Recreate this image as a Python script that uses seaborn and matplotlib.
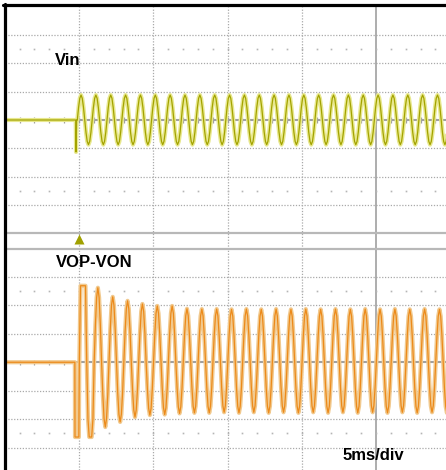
import numpy as np
import matplotlib
matplotlib.use('Agg')
import matplotlib.pyplot as plt
from matplotlib.lines import Line2D
import seaborn as sns

sns.set_style('white')
plt.rcParams['font.family'] = ['Liberation Sans', 'DejaVu Sans']

# scope screen: 5 ms/div horizontally, vertical values in divisions
x_end_ms = 29.71
x_grid_ms = [5, 10, 15, 20]
x_center_ms = 25
trigger_ms = 5.0

# one sampled cycle of the trace (normalised)
cycle_shape = [0.0, 0.5, 0.87, 1.0, 0.87, 0.5, 0.0, -0.5, -0.87, -1.0, -0.87, -0.5]
period_ms = 1.0

# Vin channel
vin_start_ms = 4.886
vin_pre_t = [0.0, 4.78, 4.80, 4.84]
vin_pre_v = [0.0, 0.0, -1.13, 0.0]
vin_peaks = [0.88, 0.88, 0.88, 0.88, 0.88, 0.88, 0.88, 0.88, 0.88, 0.88, 0.88, 0.88, 0.88,
             0.88, 0.88, 0.88, 0.88, 0.88, 0.88, 0.88, 0.88, 0.88, 0.88, 0.88, 0.88]
vin_troughs = [-0.87, -0.87, -0.87, -0.87, -0.87, -0.87, -0.87, -0.87, -0.87, -0.87, -0.87, -0.87, -0.87,
               -0.87, -0.87, -0.87, -0.87, -0.87, -0.87, -0.87, -0.87, -0.87, -0.87, -0.87, -0.87]

# VOP-VON channel
vop_start_ms = 5.02
vop_pre_t = [0.0, 4.72, 4.73, 4.99]
vop_pre_v = [0.0, 0.0, -2.63, -2.63]
vop_clip = (-2.63, 2.69)
vop_peaks = [6.0, 2.62, 2.30, 2.16, 2.05, 1.98, 1.98, 1.88, 1.87, 1.87, 1.86, 1.87, 1.86,
             1.87, 1.86, 1.87, 1.86, 1.87, 1.86, 1.87, 1.86, 1.87, 1.86, 1.87, 1.86]
vop_troughs = [-4.0, -2.28, -2.10, -1.93, -1.86, -1.84, -1.80, -1.78, -1.78, -1.76, -1.78, -1.76, -1.78,
               -1.76, -1.78, -1.76, -1.78, -1.76, -1.78, -1.76, -1.78, -1.76, -1.78, -1.76, -1.78]


def build(start, pre_t, pre_v, peaks, troughs):
    t = list(pre_t)
    v = list(pre_v)
    n = len(cycle_shape)
    for k, (p, q) in enumerate(zip(peaks, troughs)):
        for i, s in enumerate(cycle_shape):
            t.append(start + (k + i / n) * period_ms)
            v.append(s * p if s >= 0 else -s * q)
    return np.array(t), np.array(v)


vin_t, vin_v = build(vin_start_ms, vin_pre_t, vin_pre_v, vin_peaks, vin_troughs)
vop_t, vop_v = build(vop_start_ms, vop_pre_t, vop_pre_v, vop_peaks, vop_troughs)
vop_v = np.clip(vop_v, *vop_clip)

W, H = 446, 470
fig = plt.figure(figsize=(W / 100, H / 100), dpi=100)
ax_top = fig.add_axes([4.75 / W, (H - 233.3) / H, (W - 4.75) / W, 226.6 / H])
ax_bot = fig.add_axes([4.75 / W, 0, (W - 4.75) / W, 221.5 / H])
ax_top.set_ylim(-4, 4)
ax_bot.set_ylim(-3.79, 4)

grid_c = '#a9a9a9'
band_c = '#b8b8b8'
minor_x = np.arange(1, 30)

for ax in [ax_top, ax_bot]:
    ax.set_xlim(0, x_end_ms)
    ax.set_xticks([])
    ax.set_yticks([])
    for s in ax.spines.values():
        s.set_visible(False)
    for y in [-3, -2, -1, 1, 2, 3]:
        ax.axhline(y, color=grid_c, lw=0.9, ls=(0, (1, 1.3)), zorder=1)
    for x in x_grid_ms:
        ax.axvline(x, color=grid_c, lw=0.9, ls=(0, (1, 1.3)), zorder=1,
                   ymin=-0.07 if ax is ax_top else 0, clip_on=False)
    ax.axvline(x_center_ms, color='#a0a0a0', lw=1.2, zorder=1,
               ymin=-0.07 if ax is ax_top else 0, clip_on=False)
    ax.axhline(0, color='#a0a0a0', lw=1.5, zorder=1)
    ax.vlines(minor_x, -0.09, 0.09, color='#a0a0a0', lw=0.9, zorder=1)
    for y in [-2.5, 2.5]:
        ax.plot(minor_x, [y] * len(minor_x), ls='none', marker='s', ms=1.2,
                color='#b5b5b5', mec='none', zorder=1)

# band lines between the two windows
ax_top.axhline(-4, color=band_c, lw=1.6, clip_on=False, zorder=2)
ax_bot.axhline(4, color=band_c, lw=1.6, clip_on=False, zorder=2)

# traces: light glow underneath, darker trace on top
sns.lineplot(x=vin_t, y=vin_v, ax=ax_top, color='#e8e88e', lw=3.0,
             estimator=None, sort=False, zorder=3)
sns.lineplot(x=vin_t, y=vin_v, ax=ax_top, color='#a3a300', lw=0.9,
             estimator=None, sort=False, zorder=4)
sns.lineplot(x=vop_t, y=vop_v, ax=ax_bot, color='#f1c98e', lw=3.0,
             estimator=None, sort=False, zorder=3)
sns.lineplot(x=vop_t, y=vop_v, ax=ax_bot, color='#ec8a1a', lw=0.9,
             estimator=None, sort=False, zorder=4)

# trigger marker
ax_top.plot([trigger_ms], [-4.2], marker='^', ms=6.5, color='#a0a000', mec='none',
            clip_on=False, zorder=5)

# black screen border (left and top)
fig.add_artist(Line2D([4.5 / W, 4.5 / W], [0, 1 - 3.5 / H], color='black', lw=2.3,
                      transform=fig.transFigure))
fig.add_artist(Line2D([3.4 / W, 1], [1 - 5 / H, 1 - 5 / H], color='black', lw=2.3,
                      transform=fig.transFigure))

fig.text(55 / W, 1 - 65 / H, 'Vin', fontsize=12, fontweight='bold', va='baseline', color='black')
fig.text(56 / W, 1 - 267 / H, 'VOP-VON', fontsize=12, fontweight='bold', va='baseline', color='black')
fig.text(343 / W, 1 - 460 / H, '5ms/div', fontsize=12, fontweight='bold', va='baseline', color='black')

fig.savefig('out.png', dpi=100)
